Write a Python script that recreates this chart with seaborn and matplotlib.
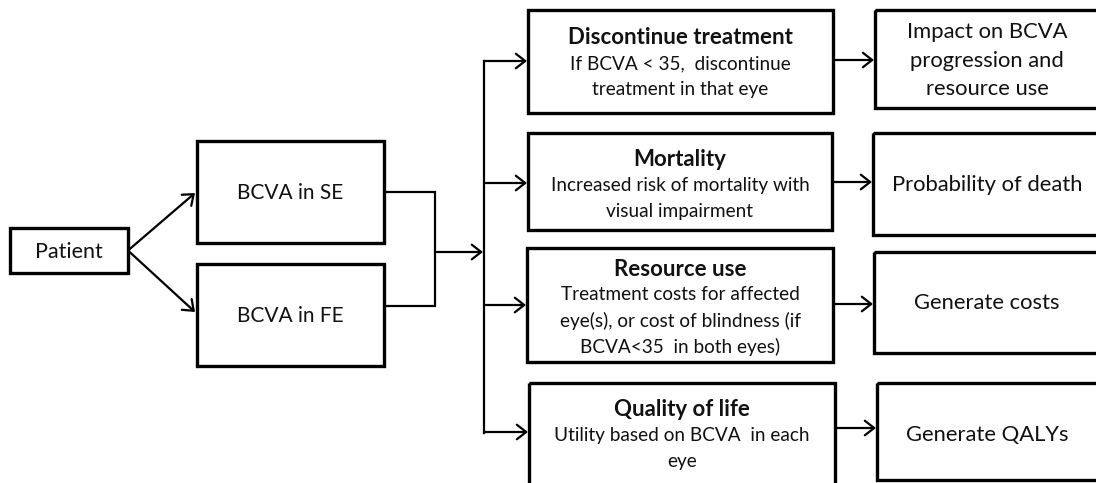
import matplotlib
matplotlib.use("Agg")
import matplotlib.pyplot as plt
from matplotlib.patches import Rectangle
import seaborn as sns

# Text content of the flowchart
patient_label = "Patient"
eye_labels = ["BCVA in SE", "BCVA in FE"]
event_titles = ["Discontinue treatment", "Mortality", "Resource use", "Quality of life"]
event_texts = [
    ["If BCVA < 35,  discontinue", "treatment in that eye"],
    ["Increased risk of mortality with", "visual impairment"],
    ["Treatment costs for affected", "eye(s), or cost of blindness (if", "BCVA<35  in both eyes)"],
    ["Utility based on BCVA  in each", "eye"],
]
outcome_texts = [
    ["Impact on BCVA", "progression and", "resource use"],
    ["Probability of death"],
    ["Generate costs"],
    ["Generate QALYs"],
]

# Layout (pixel units, y grows downwards): x0, y0, x1, y1
patient_box = (10, 228, 128, 273)
eye_boxes = [(197, 141, 384, 243), (197, 264, 384, 366)]
event_boxes = [(528, 10, 833, 113), (528, 133, 832, 230), (527, 248, 833, 362), (529, 383, 835, 486)]
outcome_boxes = [(875, 10, 1102, 108), (873, 133, 1102, 235), (874, 252, 1102, 353), (877, 383, 1102, 480)]
event_title_y = [38, 159, 269, 410]
event_arrow_y = [61, 183, 305, 432]
outcome_arrow_y = [60, 182, 304, 428]
outcome_line_y = [[32, 61, 89], [185], [303], [435]]
bus_x = 484
join_x = 435

sns.set_theme(style="white")
plt.rcParams['font.family'] = ['Lato', 'DejaVu Sans']

fig = plt.figure(figsize=(10.96, 4.83), dpi=100)
ax = fig.add_axes([0, 0, 1, 1])
ax.set_xlim(0, 1096)
ax.set_ylim(483, 0)
ax.axis("off")

BOX_LW = 2.4
LINE_LW = 1.6
ARROW = dict(arrowstyle="->,head_length=0.45,head_width=0.35", lw=LINE_LW, color="black",
             mutation_scale=15, shrinkA=0, shrinkB=0)


def draw_box(b):
    x0, y0, x1, y1 = b
    ax.add_patch(Rectangle((x0, y0), x1 - x0, y1 - y0, fill=False, lw=BOX_LW,
                           edgecolor="black", joinstyle="miter", clip_on=True))


def arrow(start, end):
    ax.annotate("", xy=end, xytext=start, arrowprops=ARROW)


# Patient
draw_box(patient_box)
ax.text((patient_box[0] + patient_box[2]) / 2, (patient_box[1] + patient_box[3]) / 2 + 1,
        patient_label, ha="center", va="center", fontsize=15.5, color="#111111")

# Eyes
for b, lab in zip(eye_boxes, eye_labels):
    draw_box(b)
    ax.text((b[0] + b[2]) / 2, (b[1] + b[3]) / 2 + 1, lab, ha="center", va="center",
            fontsize=15, color="#111111")

px = patient_box[2]
py = (patient_box[1] + patient_box[3]) / 2
arrow((px, py), (eye_boxes[0][0] - 2, 193))
arrow((px, py), (eye_boxes[1][0] - 2, 312))

# join of the two eye boxes
ax.plot([eye_boxes[0][2], join_x, join_x, eye_boxes[1][2]], [192, 192, 306, 306],
        color="black", lw=LINE_LW, solid_joinstyle="miter")
arrow((join_x, 252), (bus_x - 1, 252))

# bus
ax.plot([bus_x, bus_x], [event_arrow_y[0], event_arrow_y[-1] + 1], color="black", lw=LINE_LW,
        solid_capstyle="projecting")

# Events
for b, title, lines, ty, ay in zip(event_boxes, event_titles, event_texts, event_title_y, event_arrow_y):
    draw_box(b)
    cx = (b[0] + b[2]) / 2
    ax.text(cx, ty, title, ha="center", va="center", fontsize=16, fontweight="bold", color="#111111")
    for i, line in enumerate(lines):
        ax.text(cx, ty + 26 * (i + 1), line, ha="center", va="center", fontsize=13.7, color="#111111")
    arrow((bus_x, ay), (b[0] - 1, ay))

# Outcomes
for eb, b, lines, ys, ay in zip(event_boxes, outcome_boxes, outcome_texts, outcome_line_y, outcome_arrow_y):
    draw_box(b)
    cx = 987
    for line, y in zip(lines, ys):
        ax.text(cx, y, line, ha="center", va="center", fontsize=15.8, color="#111111")
    arrow((eb[2], ay), (b[0] - 1, ay))

plt.savefig("out.png", dpi=100, facecolor="white")
